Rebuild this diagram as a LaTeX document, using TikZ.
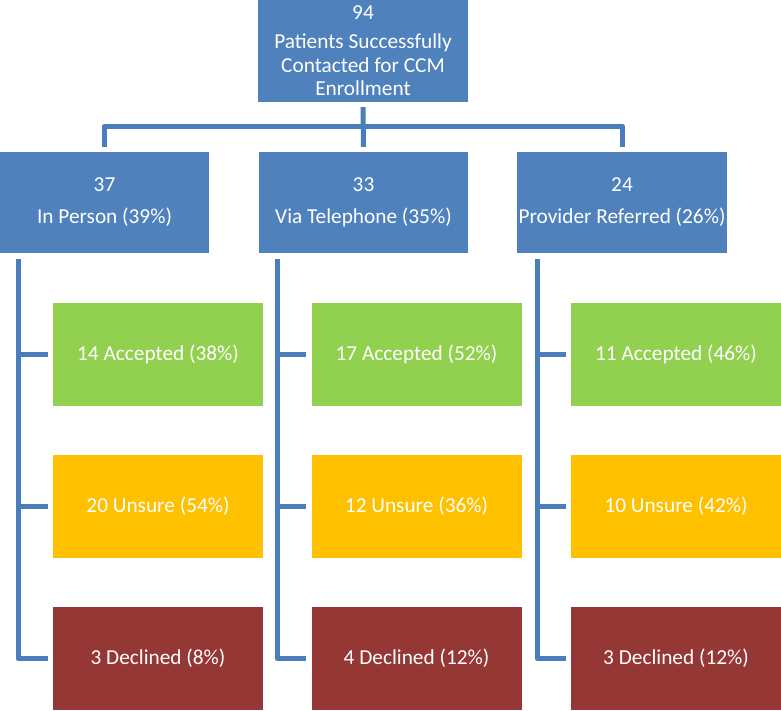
\documentclass[tikz,border=0pt]{standalone}
\usepackage{fontspec}
\setmainfont{Carlito}
\usepackage{xcolor}
\usetikzlibrary{positioning,calc}

\definecolor{boxblue}{HTML}{4F81BD}
\definecolor{linkblue}{HTML}{4A7EBB}
\definecolor{accgreen}{HTML}{92D050}
\definecolor{unsorange}{HTML}{FFC000}
\definecolor{decred}{HTML}{953735}

\begin{document}
\begin{tikzpicture}[
    x=1pt, y=-1pt,
    group/.style={rectangle, fill=boxblue, text=white, minimum width=210pt, minimum height=102pt, align=center, inner sep=0pt, font=\fontsize{21.3}{23.5}\selectfont, execute at begin node={\vspace*{4pt}}},
    answer/.style={rectangle, text=white, minimum width=210pt, minimum height=103pt, align=center, inner sep=0pt, font=\fontsize{21.3}{23.5}\selectfont},
    link/.style={draw=linkblue, line width=5pt, line join=round}
]
\useasboundingbox (0,0) rectangle (781,710);

% Top box
\node[group] (total) at (363, 51) {94\\[5.5pt] Patients Successfully\\ Contacted for CCM\\ Enrollment};

% Contact routes
\node[group, minimum width=209pt, minimum height=101pt] (person) at (104.5, 202.5) {37\\[8.5pt] In Person (39\%)};
\node[group, minimum width=209pt, minimum height=101pt] (phone) at (363.5, 202.5) {33\\[8.5pt] Via Telephone (35\%)};
\node[group, minimum width=210pt, minimum height=101pt] (referred) at (622, 202.5) {24\\[8.5pt] Provider Referred (26\%)};

% Answers
\node[answer, fill=accgreen] (acc_person) at (158, 354.5) {14 Accepted (38\%)};
\node[answer, fill=unsorange] (uns_person) at (158, 506) {20 Unsure (54\%)};
\node[answer, fill=decred] (dec_person) at (158, 658.5) {3 Declined (8\%)};

\node[answer, fill=accgreen] (acc_phone) at (416.5, 354.5) {17 Accepted (52\%)};
\node[answer, fill=unsorange] (uns_phone) at (416.5, 506) {12 Unsure (36\%)};
\node[answer, fill=decred] (dec_phone) at (416.5, 658.5) {4 Declined (12\%)};

\node[answer, fill=accgreen] (acc_referred) at (676, 354.5) {11 Accepted (46\%)};
\node[answer, fill=unsorange] (uns_referred) at (676, 506) {10 Unsure (42\%)};
\node[answer, fill=decred] (dec_referred) at (676, 658.5) {3 Declined (12\%)};

% Top connectors
\coordinate (bus) at (363, 126);
\draw[link] ([yshift=-5pt]total.south) -- ([yshift=5pt]phone.north);
\draw[link] ([yshift=5pt]person.north) |- (bus) -| ([yshift=5pt]referred.north);

% Side connectors
\foreach \route/\spine in {person/18, phone/277, referred/537} {
    \draw[link] (\spine, 259) |- ([xshift=-5pt]dec_\route.west);
    \draw[link] (\spine, 354.5) -- ([xshift=-5pt]acc_\route.west);
    \draw[link] (\spine, 506) -- ([xshift=-5pt]uns_\route.west);
}

\end{tikzpicture}
\end{document}
